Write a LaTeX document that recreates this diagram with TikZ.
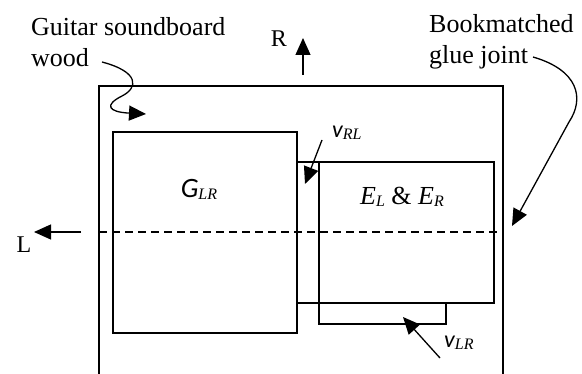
\documentclass[tikz,border=0pt]{standalone}
\usepackage{fontspec}
\setmainfont{Liberation Serif}
\newfontfamily\carlito{Carlito}
\usepackage{tikz}
\usetikzlibrary{arrows.meta,positioning}
\tikzset{
  box/.style={draw,line width=1.4pt,inner sep=0pt,outer sep=0pt},
  arrow/.style={-{Triangle[length=17pt,width=15pt]},line width=1.3pt},
  note/.style={font=\fontsize{26}{31}\selectfont,align=left,inner sep=0pt},
  dirlabel/.style={font=\fontsize{24}{28}\selectfont,inner sep=0pt},
  symlabel/.style={inner sep=0pt}
}
\newcommand{\modsym}[3][28]{{\fontsize{#1}{#1}\carlito\itshape #2}\raisebox{-2pt}{\fontsize{16}{18}\selectfont\itshape #3}}
\newcommand{\yngsym}[1]{\textit{E}\raisebox{-2pt}{\fontsize{16}{18}\selectfont\itshape #1}}

\begin{document}
\begin{tikzpicture}[x=1pt,y=-1pt]
  \useasboundingbox (0,0) rectangle (582,374);
  % soundboard outline, open at the bottom
  \draw[line width=1.4pt] (99,374) |- (503,86) -- (503,374);
  % the three specimen strips
  \node[box,minimum width=184pt,minimum height=201pt] (glr) at (205,232.5) {};
  \node[box,minimum width=22pt,minimum height=141pt,right=0pt of glr] (vrl) {};
  \node[box,minimum width=175pt,minimum height=141pt,right=0pt of vrl] (elr) {};
  \node[box,minimum width=127pt,minimum height=21pt,below=0pt of elr.south west,anchor=north west] (vlr) {};
  \draw[line width=1.3pt,dash pattern=on 8pt off 5pt] (99,232) -- (498,232);
  % labels
  \node[note,anchor=north west] (wood) at (31,17) {Guitar soundboard\\wood};
  \node[note,anchor=north west] (joint) at (429,14) {Bookmatched\\glue joint};
  \node[dirlabel,anchor=base] (rtext) at (279,47) {R};
  \node[dirlabel,anchor=base] (ltext) at (24,253) {L};
  \node[symlabel,anchor=base] (glrtext) at (199,198) {\modsym{G}{LR}};
  \node[symlabel,anchor=base west] (vrltext) at (332,138) {\modsym[24]{v}{RL}};
  \node[symlabel,anchor=base west] (vlrtext) at (444,348) {\modsym[24]{v}{LR}};
  \node[symlabel,anchor=base,font=\fontsize{26}{30}\selectfont] (elrtext) at (402,205) {\yngsym{L} \& \yngsym{R}};
  % arrows
  \coordinate (rtail) at (303,75);
  \coordinate (rtip) at (303,38);
  \coordinate (ltail) at (81,232);
  \coordinate (ltip) at (34,232);
  \coordinate (woodtail) at (102,62);
  \coordinate (woodtip) at (146,114);
  \coordinate (jointtail) at (533,57);
  \coordinate (jointbend) at (569,122);
  \coordinate (jointtip) at (512,226);
  \coordinate (vrltip) at (305,184);
  \coordinate (vlrtip) at (403,317);
  \draw[arrow] (rtail) -- (rtip);
  \draw[arrow] (ltail) -- (ltip);
  \draw[arrow] (woodtail) .. controls (140,72) and (138,88) .. (122,96)
    .. controls (104,105) and (108,112) .. (woodtip);
  \draw[arrow] (jointtail) .. controls (578,70) and (585,98) .. (jointbend) -- (jointtip);
  \draw[arrow] ([shift={(-10pt,-2pt)}]vrltext.base west) -- (vrltip);
  \draw[arrow] ([shift={(-4pt,-10pt)}]vlrtext.base west) -- (vlrtip);
\end{tikzpicture}
\end{document}
